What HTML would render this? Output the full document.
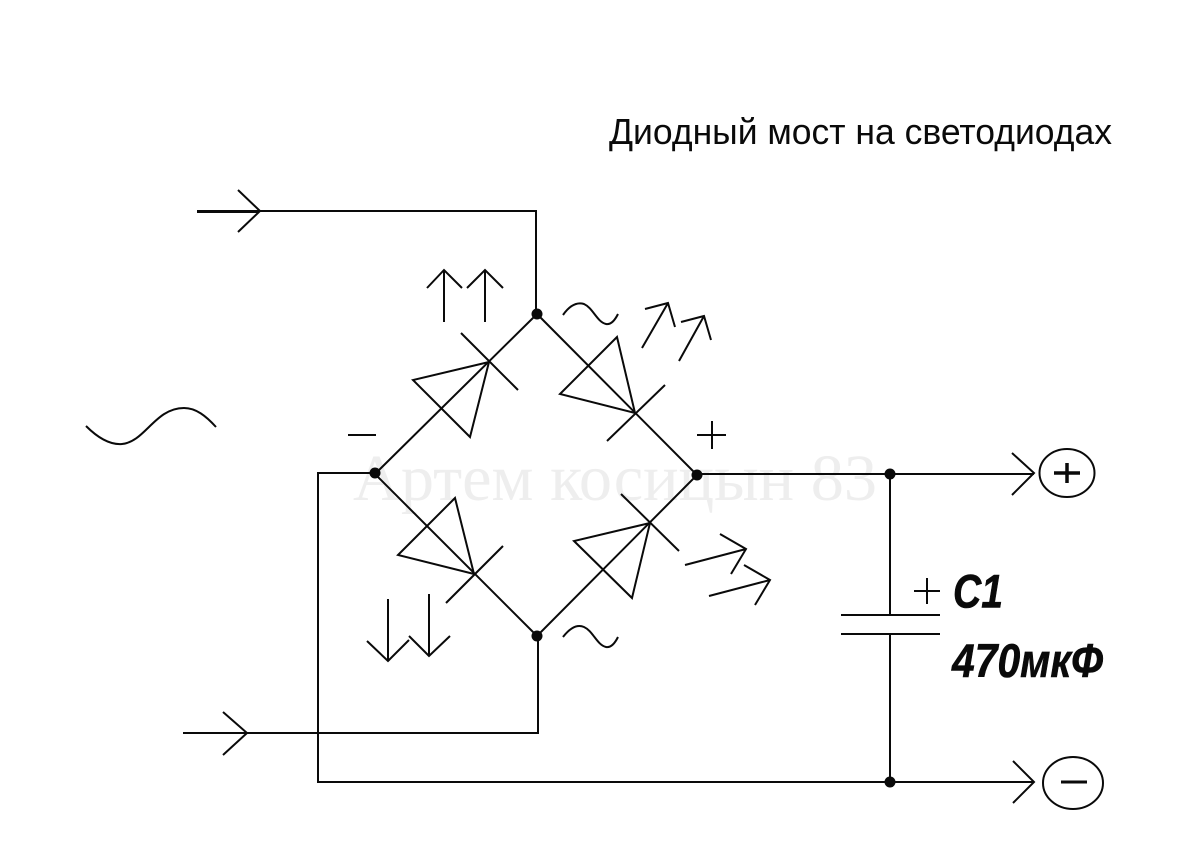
<!DOCTYPE html>
<html>
<head>
<meta charset="utf-8">
<style>
html,body{margin:0;padding:0;background:#fff;width:1200px;height:848px;overflow:hidden}
svg{display:block}
</style>
</head>
<body>
<svg width="1200" height="848" viewBox="0 0 1200 848" xmlns="http://www.w3.org/2000/svg">
<rect width="1200" height="848" fill="#fff"/>
<text x="353" y="500" font-family="'Liberation Serif','Noto Serif CJK SC',serif" font-size="66" fill="#eeeeee" textLength="524" lengthAdjust="spacingAndGlyphs">Артем косицын 83</text>
<text x="609" y="144" font-family="'Liberation Sans','DejaVu Sans',sans-serif" font-size="36" fill="#0a0a0a" textLength="503" lengthAdjust="spacingAndGlyphs">Диодный мост на светодиодах</text>
<g fill="none" stroke="#0a0a0a" stroke-width="2">
<!-- wires -->
<path d="M197 211H536V314"/>
<path d="M197 211.5H258" stroke-width="3"/>
<path d="M183 733H538V636" />
<path d="M375 473H318V782H1034"/>
<path d="M697 474H1034"/>
<path d="M890 474V615M890 634V782"/>
<path d="M841 615H940M841 634H940"/>
<!-- bridge -->
<path d="M537 314L375 474L537 636L697 475L537 314"/>
<!-- diodes -->
<path d="M489 362L413 380L470 437Z"/>
<path d="M461 333L518 390"/>
<path d="M635 413L617 337L560 394Z"/>
<path d="M607 441L665 385"/>
<path d="M474 574L455 498L398 555Z"/>
<path d="M446 603L503 546"/>
<path d="M650 523L574 541L632 598Z"/>
<path d="M621 494L679 551"/>
<!-- wire arrowheads -->
<path d="M238 190L260 211L238 232"/>
<path d="M223 712L247 733L223 755"/>
<path d="M1012 453L1034 473L1012 495"/>
<path d="M1013 761L1034 782L1013 803"/>
<!-- light arrows -->
<path d="M444 322V270M427 288L444 270L462 288"/>
<path d="M485 322V270M467 288L485 270L503 288"/>
<path d="M642 348L668 303M645 309L668 303L675 327"/>
<path d="M679 361L704 316M681 322L704 316L711 340"/>
<path d="M388 599V661M367 641L388 661L409 640"/>
<path d="M429 594V656M409 636L429 656L450 636"/>
<path d="M685 565L746 549M720 534L746 549L731 574"/>
<path d="M709 596L770 580M744 565L770 580L755 605"/>
<!-- tildes -->
<path d="M563 315C570 305 577 302 584 304C593 308 597 322 606 324C611 325 615 320 618 314"/>
<path d="M563 637C570 628 577 624 584 627C593 631 597 645 606 647C611 648 615 643 618 637"/>
<path d="M86 426C98 438 110 445 122 444C145 442 155 408 184 408C196 408 206 416 216 427"/>
<!-- signs -->
<path d="M348 435H376"/>
<path d="M697 435H726M712 421V449"/>
<path d="M914 591H940M927 578V604"/>
<!-- terminals -->
<ellipse cx="1067" cy="473" rx="27.5" ry="24"/>
<ellipse cx="1073" cy="783" rx="30" ry="26"/>
</g>
<path d="M1054 473H1080M1067 463V483" fill="none" stroke="#0a0a0a" stroke-width="3.5"/>
<path d="M1061 782H1087" fill="none" stroke="#0a0a0a" stroke-width="3"/>
<g fill="#0a0a0a">
<circle cx="537" cy="314" r="5.5"/>
<circle cx="375" cy="473" r="5.5"/>
<circle cx="537" cy="636" r="5.5"/>
<circle cx="697" cy="475" r="5.5"/>
<circle cx="890" cy="474" r="5.5"/>
<circle cx="890" cy="782" r="5.5"/>
</g>
<g font-family="'Liberation Sans','DejaVu Sans',sans-serif" font-weight="bold" font-style="italic" fill="#0a0a0a" stroke="#0a0a0a" stroke-width="0.6">
<text x="0" y="0" font-size="47" transform="translate(953,607.5)" textLength="50" lengthAdjust="spacingAndGlyphs">C1</text>
<text x="0" y="0" font-size="47" transform="translate(952,677)" textLength="151" lengthAdjust="spacingAndGlyphs">470мкФ</text>
</g>
</svg>
</body>
</html>
